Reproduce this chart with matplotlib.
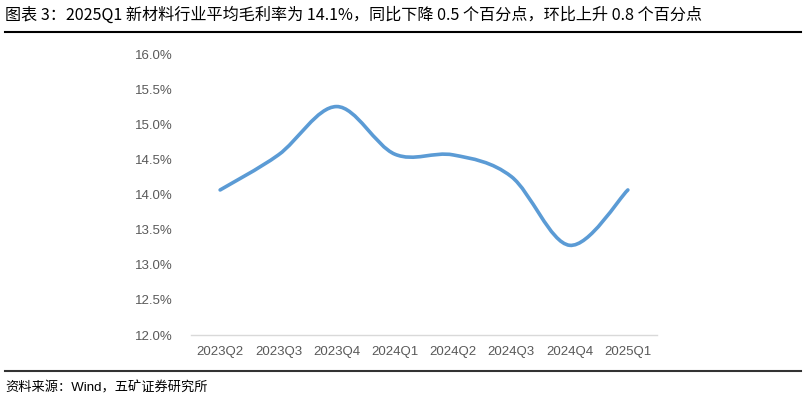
import numpy as np
import matplotlib.pyplot as plt
from matplotlib.path import Path
from matplotlib.patches import PathPatch
from matplotlib.lines import Line2D
from matplotlib.ticker import FuncFormatter

quarters = ['2023Q2', '2023Q3', '2023Q4', '2024Q1', '2024Q2', '2024Q3', '2024Q4', '2025Q1']
margin = [14.07, 14.57, 15.26, 14.58, 14.57, 14.26, 13.28, 14.07]

title = '图表 3：2025Q1 新材料行业平均毛利率为 14.1%，同比下降 0.5 个百分点，环比上升 0.8 个百分点'
source = '资料来源：Wind，五矿证券研究所'

plt.rcParams['font.family'] = ['Liberation Sans', 'Noto Sans CJK SC', 'DejaVu Sans']


def smooth_path(xs, ys):
    # excel-style smoothed line: catmull-rom segments as cubic bezier
    pts = np.column_stack([xs, ys])
    ext = np.vstack([pts[0], pts, pts[-1]])
    verts = [pts[0]]
    codes = [Path.MOVETO]
    for i in range(len(pts) - 1):
        p0, p1, p2, p3 = ext[i], ext[i + 1], ext[i + 2], ext[i + 3]
        c1 = p1 + (p2 - p0) / 6.0
        c2 = p2 - (p3 - p1) / 6.0
        verts += [c1, c2, p2]
        codes += [Path.CURVE4] * 3
    return Path(verts, codes)


fig = plt.figure(figsize=(8.06, 4.0), dpi=100)
ax = fig.add_axes([191 / 806, 1 - 335 / 400, (657 - 191) / 806, (335 - 54.7) / 400])

x = np.arange(len(quarters))
ax.add_patch(PathPatch(smooth_path(x, margin), facecolor='none', edgecolor='#5B9BD5',
                       linewidth=2.6, capstyle='round', joinstyle='round'))

ax.set_xlim(-0.5, len(quarters) - 0.5)
ax.set_ylim(12.0, 16.0)
ax.set_yticks(np.arange(12.0, 16.01, 0.5))
ax.yaxis.set_major_formatter(FuncFormatter(lambda v, p: '%.1f%%' % v))
ax.set_xticks(x)
ax.set_xticklabels(quarters)
for s in ['top', 'right', 'left']:
    ax.spines[s].set_visible(False)
ax.spines['bottom'].set_color('#D9D9D9')
ax.spines['bottom'].set_linewidth(1.0)
ax.tick_params(axis='both', length=0, labelsize=9.5, labelcolor='#595959')
ax.tick_params(axis='y', pad=13)
ax.tick_params(axis='x', pad=8)

fig.text(5 / 806, 1 - 15 / 400, title, fontsize=11.6, va='center', ha='left',
         family=['Noto Sans CJK SC', 'DejaVu Sans'], color='#000000')
fig.add_artist(Line2D([5 / 806, 801 / 806], [1 - 31.5 / 400] * 2, color='#000000', linewidth=1.5))
fig.add_artist(Line2D([5 / 806, 801 / 806], [1 - 371 / 400] * 2, color='#333333', linewidth=1.5))
fig.text(5 / 806, 1 - 388 / 400, source, fontsize=9.5, va='center', ha='left',
         family=['Liberation Sans', 'Noto Sans CJK SC', 'DejaVu Sans'], color='#000000')

fig.savefig('out.png', dpi=100)
plt.close()
